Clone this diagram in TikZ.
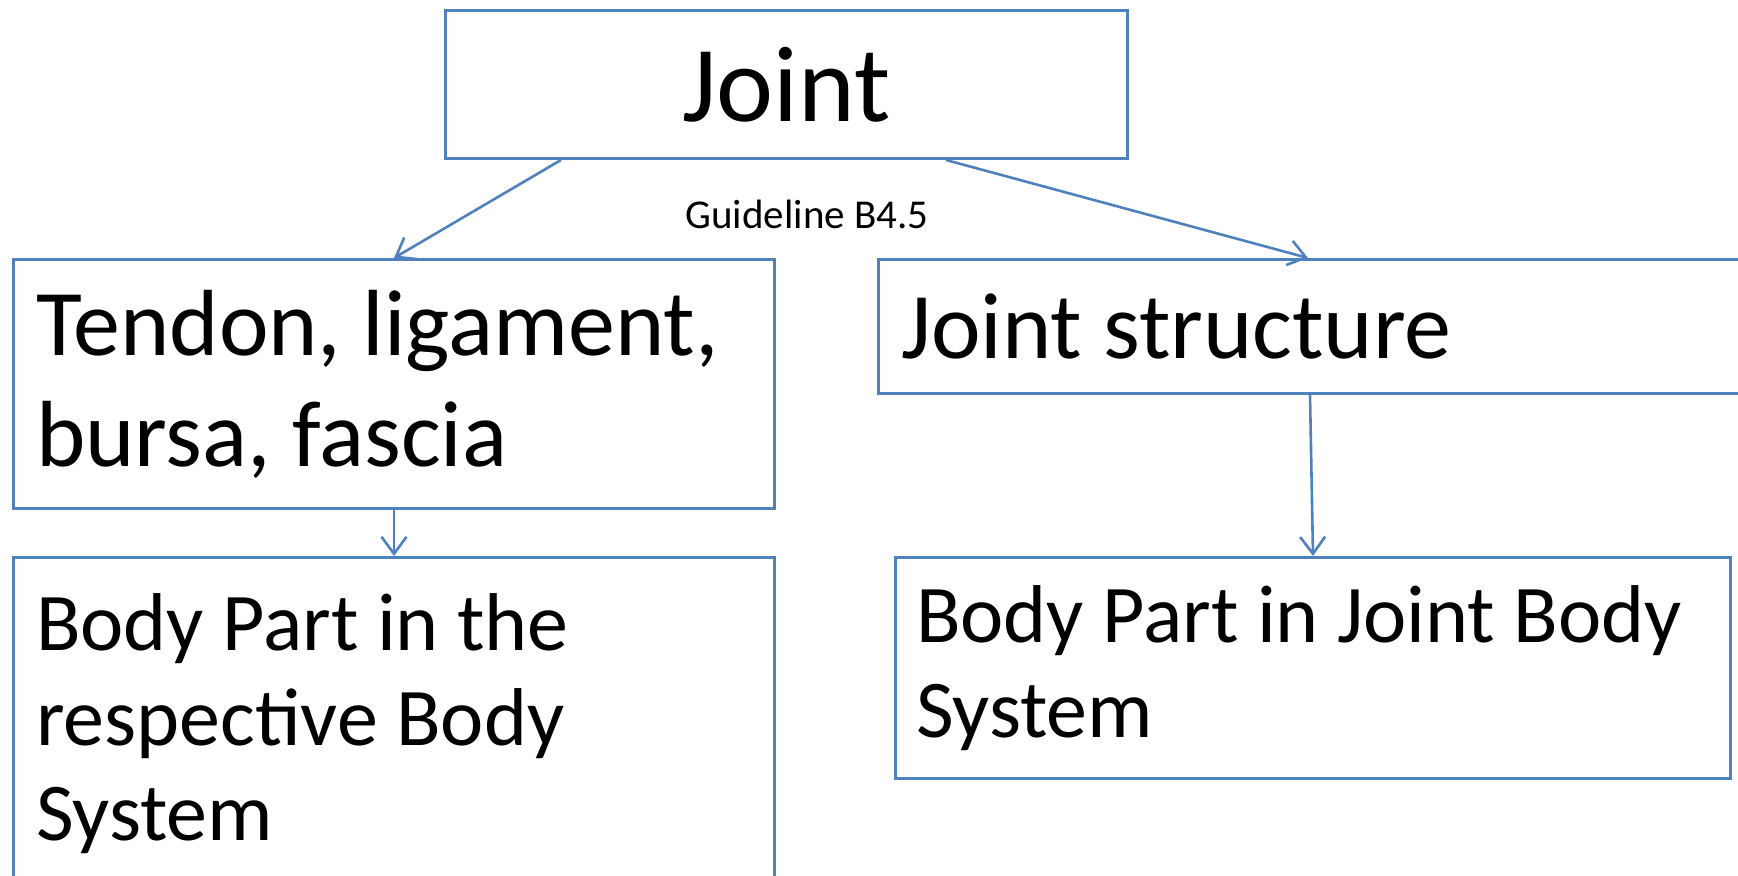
\documentclass[tikz,border=0pt]{standalone}
\usepackage{fontspec}
\setmainfont{Carlito}
\usetikzlibrary{arrows.meta}
\definecolor{boxblue}{RGB}{79,129,189}
\frenchspacing

\begin{document}
\begin{tikzpicture}[x=0.5pt, y=-0.5pt,
  box/.style={draw=boxblue, line width=1.5pt, anchor=north west, align=left, inner xsep=11pt,
    execute at begin node={\spaceskip=0pt\xspaceskip=0pt\relax}},
  link/.style={draw=boxblue, line width=1.3pt, -{Straight Barb[length=8.5pt, width=12.5pt]}}]
  \useasboundingbox (0,0) rectangle (1738,876);

  % Top box
  \node[box, align=center, minimum width=341pt, minimum height=74pt,
    font=\fontsize{54pt}{65pt}\selectfont] (joint) at (444,9) {Joint};
  \node[font=\fontsize{20.5pt}{24pt}\selectfont] (guide) at (807,214) {Guideline B4.5};

  % Second row
  \node[box, minimum width=380.5pt, minimum height=124.5pt, text width=358pt,
    font=\fontsize{47pt}{55.5pt}\selectfont] (tendon) at (12,258) {Tendon, ligament,\\ bursa, fascia};
  \node[box, minimum width=441.5pt, minimum height=67pt, text width=419pt,
    font=\fontsize{47pt}{55.5pt}\selectfont] (structure) at (877,258) {Joint structure};

  % Third row
  \node[box, minimum width=380.5pt, minimum height=166pt, text width=358pt,
    font=\fontsize{41pt}{47.5pt}\selectfont] (bodyresp) at (12,556) {Body Part in the\\ respective Body\\ System};
  \node[box, minimum width=417.5pt, minimum height=110.5pt, text width=397pt, inner xsep=10pt,
    font=\fontsize{41pt}{47.5pt}\selectfont] (bodyjoint) at (894,556) {Body Part in Joint Body\\ System};

  % Connectors
  \draw[link] ([xshift=58.5pt]joint.south west) -- (tendon.north);
  \draw[link] ([xshift=-91.5pt]joint.south east) -- ([xshift=215.5pt]structure.north west);
  \draw[link] (tendon.south) -- (bodyresp.north);
  \draw[link] ([xshift=216.5pt]structure.south west) -- (bodyjoint.north);
\end{tikzpicture}
\end{document}
